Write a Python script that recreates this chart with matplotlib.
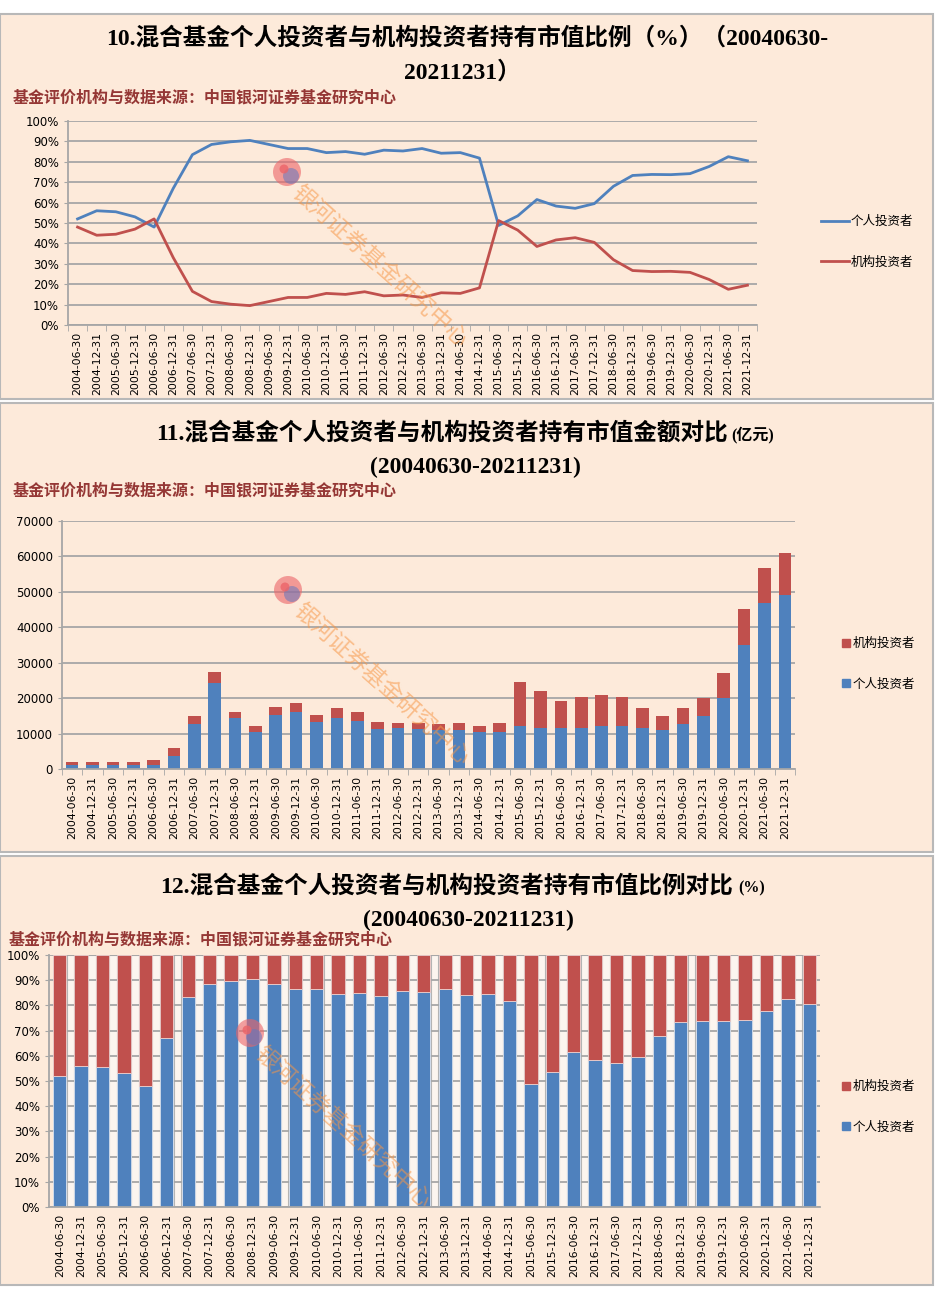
import matplotlib
matplotlib.use("Agg")
import matplotlib.pyplot as plt
from matplotlib.patches import Rectangle, Ellipse, Patch
import numpy as np

plt.rcParams['font.family'] = ['DejaVu Sans', 'Noto Sans CJK SC']

W, H = 937, 1289

dates = ['2004-06-30', '2004-12-31', '2005-06-30', '2005-12-31', '2006-06-30', '2006-12-31',
         '2007-06-30', '2007-12-31', '2008-06-30', '2008-12-31', '2009-06-30', '2009-12-31',
         '2010-06-30', '2010-12-31', '2011-06-30', '2011-12-31', '2012-06-30', '2012-12-31',
         '2013-06-30', '2013-12-31', '2014-06-30', '2014-12-31', '2015-06-30', '2015-12-31',
         '2016-06-30', '2016-12-31', '2017-06-30', '2017-12-31', '2018-06-30', '2018-12-31',
         '2019-06-30', '2019-12-31', '2020-06-30', '2020-12-31', '2021-06-30', '2021-12-31']

# 持有市值比例 (%)
personal_pct = [52.0, 56.0, 55.5, 53.0, 48.0, 67.0, 83.5, 88.5, 89.8, 90.5, 88.5, 86.5,
                86.5, 84.5, 85.0, 83.7, 85.7, 85.3, 86.5, 84.2, 84.5, 81.8, 48.8, 53.5,
                61.5, 58.3, 57.2, 59.5, 68.0, 73.3, 73.8, 73.7, 74.2, 77.7, 82.5, 80.5]
inst_pct = [48.0, 44.0, 44.5, 47.0, 52.0, 33.0, 16.5, 11.5, 10.2, 9.5, 11.5, 13.5,
            13.5, 15.5, 15.0, 16.3, 14.3, 14.7, 13.5, 15.8, 15.5, 18.2, 51.2, 46.5,
            38.5, 41.7, 42.8, 40.5, 32.0, 26.7, 26.2, 26.3, 25.8, 22.3, 17.5, 19.5]

# 持有市值金额 (亿元)
personal_amt = [1000, 1200, 1200, 1200, 1200, 3800, 12600, 24200, 14500, 10500, 15200, 16000,
                13200, 14500, 13500, 11200, 11500, 11200, 11000, 11000, 10400, 10500, 12000, 11700,
                11700, 11700, 12000, 12000, 11700, 10900, 12600, 14900, 20000, 35000, 46800, 49200]
inst_amt = [1000, 800, 800, 800, 1300, 2000, 2400, 3300, 1500, 1500, 2200, 2500,
            2000, 2600, 2500, 2200, 1600, 1900, 1700, 2100, 1600, 2400, 12500, 10300,
            7400, 8500, 9000, 8200, 5400, 4000, 4500, 5100, 7000, 10200, 9900, 11800]

BLUE = '#4F81BD'
RED = '#C0504D'
BG = '#FDEADA'
GRID = '#A6A6A6'
SRC = '#953735'
TITLE_FONT = ['Liberation Serif', 'Noto Sans CJK SC']
CJK = ['Noto Sans CJK SC', 'DejaVu Sans']
source = '基金评价机构与数据来源：中国银河证券基金研究中心'

fig = plt.figure(figsize=(W / 100, H / 100), dpi=100)
fig.patch.set_facecolor('white')


def fx(px):
    return px / W


def fy(py):
    return 1 - py / H


def rect(l, t, r, b):
    return [l / W, 1 - b / H, (r - l) / W, (b - t) / H]


# panel backgrounds
for top, bot in [(14, 399), (403, 852), (856, 1285)]:
    fig.patches.append(Rectangle((fx(0), fy(bot)), fx(933), (bot - top) / H,
                                 transform=fig.transFigure, facecolor=BG,
                                 edgecolor='#B8B8B8', lw=1.5, zorder=-5))


def style_axes(ax, n):
    ax.set_facecolor('none')
    ax.set_xlim(-0.5, n - 0.5)
    ax.set_xticks(range(n))
    ax.set_xticklabels(dates, rotation=90, fontsize=7.8)
    ax.set_xticks(np.arange(n + 1) - 0.5, minor=True)
    ax.tick_params(axis='x', which='major', length=0, pad=5)
    ax.tick_params(axis='x', which='minor', length=4, color=GRID)
    ax.tick_params(axis='y', length=3, color=GRID, labelsize=8.5)
    ax.grid(axis='y', color=GRID, lw=1.3)
    ax.set_axisbelow(True)
    for s in ['top', 'right']:
        ax.spines[s].set_visible(False)
    for s in ['left', 'bottom']:
        ax.spines[s].set_color(GRID)
        ax.spines[s].set_linewidth(1.3)


def watermark(lx, ly, tx, ty):
    fig.patches.append(Ellipse((fx(lx), fy(ly)), 28 / W, 28 / H, transform=fig.transFigure,
                               facecolor='#EC6468', alpha=0.6, zorder=5))
    fig.patches.append(Ellipse((fx(lx + 4), fy(ly + 4)), 16 / W, 16 / H,
                               transform=fig.transFigure,
                               facecolor='#6478BE', alpha=0.55, zorder=5))
    fig.patches.append(Ellipse((fx(lx - 3), fy(ly - 3)), 9 / W, 9 / H,
                               transform=fig.transFigure,
                               facecolor='#EC6468', alpha=0.8, zorder=5))
    fig.text(fx(tx), fy(ty), '银河证券基金研究中心', rotation=-42, fontsize=16.5,
             color='#F79646', alpha=0.55, family=CJK, weight='light', ha='left', va='top',
             rotation_mode='anchor', zorder=5)


x = np.arange(len(dates))

# ---------- 10. line chart ----------
fig.text(fx(467), fy(38), '10.混合基金个人投资者与机构投资者持有市值比例（%）（20040630-',
         ha='center', va='center', fontsize=17, weight='bold', family=TITLE_FONT)
fig.text(fx(462), fy(72), '20211231）', ha='center', va='center', fontsize=17,
         weight='bold', family=TITLE_FONT)
fig.text(fx(13), fy(97), source, ha='left', va='center', fontsize=11.5,
         weight='bold', color=SRC, family=CJK)

ax1 = fig.add_axes(rect(68, 121, 757, 325))
ax1.plot(x, personal_pct, color=BLUE, lw=2, label='个人投资者')
ax1.plot(x, inst_pct, color=RED, lw=2, label='机构投资者')
ax1.set_ylim(0, 100)
ax1.set_yticks(range(0, 101, 10))
ax1.set_yticklabels([f'{v}%' for v in range(0, 101, 10)])
style_axes(ax1, len(dates))
ax1.legend(loc='center left', bbox_to_anchor=(fx(810), fy(242)),
           bbox_transform=fig.transFigure, frameon=False, handlelength=2.2,
           handletextpad=0.15, labelspacing=2.2, prop={'family': CJK, 'size': 9})
watermark(287, 172, 302, 182)

# ---------- 11. stacked amount ----------
fig.text(fx(728), fy(433), '11.混合基金个人投资者与机构投资者持有市值金额对比',
         ha='right', va='center', fontsize=17, weight='bold', family=TITLE_FONT)
fig.text(fx(731), fy(435), '(亿元)', ha='left', va='center', fontsize=11.5,
         weight='bold', family=TITLE_FONT)
fig.text(fx(475), fy(467), '(20040630-20211231)', ha='center', va='center',
         fontsize=17, weight='bold', family=TITLE_FONT)
fig.text(fx(13), fy(490), source, ha='left', va='center', fontsize=11.5,
         weight='bold', color=SRC, family=CJK)

ax2 = fig.add_axes(rect(62, 521, 795, 769))
ax2.bar(x, personal_amt, width=0.62, color=BLUE, label='个人投资者')
ax2.bar(x, inst_amt, width=0.62, bottom=personal_amt, color=RED, label='机构投资者')
ax2.set_ylim(0, 70000)
ax2.set_yticks(range(0, 70001, 10000))
style_axes(ax2, len(dates))
h2 = [Patch(color=RED), Patch(color=BLUE)]
ax2.legend(h2, ['机构投资者', '个人投资者'], loc='center left',
           bbox_to_anchor=(fx(831), fy(664)), bbox_transform=fig.transFigure,
           frameon=False, handlelength=0.6, handleheight=0.6, handletextpad=0.2,
           labelspacing=2.2, prop={'family': CJK, 'size': 9})
watermark(288, 590, 304, 600)

# ---------- 12. 100% stacked ----------
fig.text(fx(733), fy(886), '12.混合基金个人投资者与机构投资者持有市值比例对比',
         ha='right', va='center', fontsize=17, weight='bold', family=TITLE_FONT)
fig.text(fx(738), fy(888), '(%)', ha='left', va='center', fontsize=11.5,
         weight='bold', family=TITLE_FONT)
fig.text(fx(468), fy(920), '(20040630-20211231)', ha='center', va='center',
         fontsize=17, weight='bold', family=TITLE_FONT)
fig.text(fx(9), fy(939), source, ha='left', va='center', fontsize=11.5,
         weight='bold', color=SRC, family=CJK)

ax3 = fig.add_axes(rect(49, 955, 820, 1207))
# column walls between bars
ax3.bar(x[:-1] + 0.5, [100] * (len(x) - 1), width=0.36, color='#FCF5EF',
        edgecolor='#B4B4B4', lw=0.8, zorder=0.5)
ax3.bar(x, personal_pct, width=0.62, color=BLUE, edgecolor='#D9E2F0', lw=0.6,
        label='个人投资者', zorder=2)
ax3.bar(x, inst_pct, width=0.62, bottom=personal_pct, color=RED, edgecolor='#EBCFCE',
        lw=0.6, label='机构投资者', zorder=2)
ax3.set_ylim(0, 100)
ax3.set_yticks(range(0, 101, 10))
ax3.set_yticklabels([f'{v}%' for v in range(0, 101, 10)])
style_axes(ax3, len(dates))
ax3.grid(axis='y', color=GRID, lw=1.3, zorder=1)
ax3.tick_params(axis='x', which='minor', length=0)
ax3.legend(h2, ['机构投资者', '个人投资者'], loc='center left',
           bbox_to_anchor=(fx(831), fy(1107)), bbox_transform=fig.transFigure,
           frameon=False, handlelength=0.6, handleheight=0.6, handletextpad=0.2,
           labelspacing=2.2, prop={'family': CJK, 'size': 9})
watermark(250, 1033, 265, 1043)

fig.savefig('out.png', dpi=100, facecolor=fig.get_facecolor())
